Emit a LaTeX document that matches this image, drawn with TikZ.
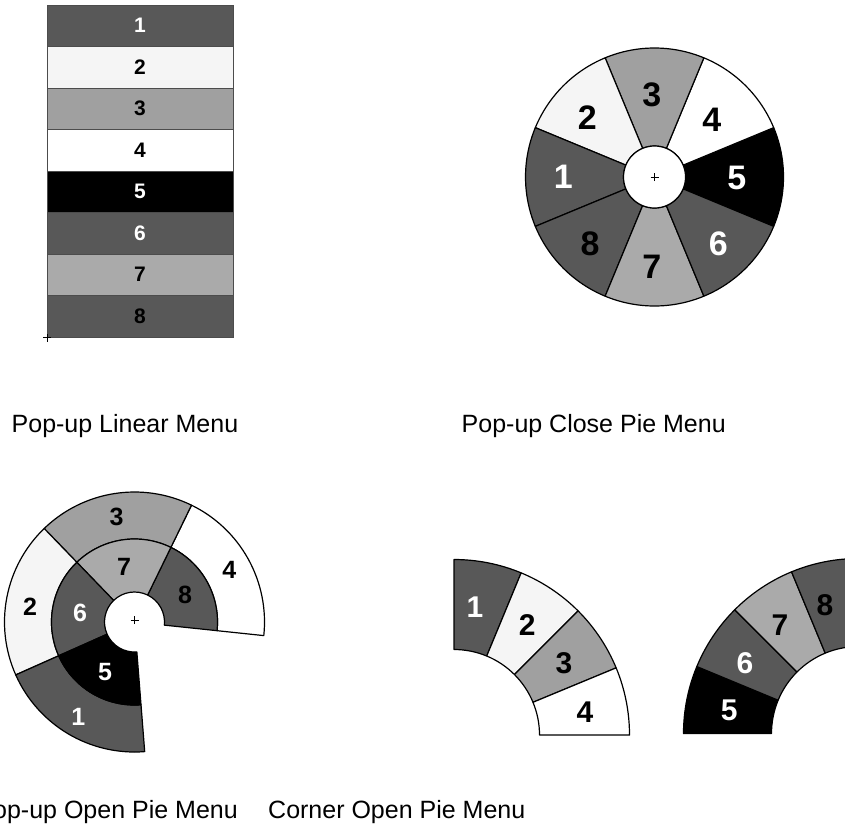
\documentclass[tikz,border=0pt]{standalone}
\usepackage{fontspec}
\setmainfont{Liberation Sans}
\definecolor{dg}{RGB}{88,88,88}
\definecolor{lg}{RGB}{245,245,245}
\definecolor{mg}{RGB}{160,160,160}
\definecolor{ng}{RGB}{170,170,170}
\tikzset{
  pieline/.style={draw=black, line width=1.2pt, line join=round},
  rowbox/.style={draw=black!70, line width=0.7pt, minimum width=186pt, minimum height=41.5pt, inner sep=0pt,
    font=\bfseries\fontsize{21}{21}\selectfont},
  caption/.style={font=\fontsize{25}{28}\selectfont, inner sep=0pt},
  dnum/.style={font=\bfseries\fontsize{#1}{#1}\selectfont, inner sep=0pt},
  cursor/.style={draw=black, line width=0.6pt},
}
\newcommand\annsec[6]{%
  \path[pieline, fill=#6, shift={(#1)}] (#4:#3) arc[start angle=#4, end angle=#5, radius=#3]
    -- (#5:#2) arc[start angle=#5, end angle=#4, radius=#2] -- cycle;}
\begin{document}
\begin{tikzpicture}[x=1pt,y=1pt]
\useasboundingbox (0,0) rectangle (845,-825);
% ---------- linear menu ----------
\node[rowbox, fill=dg, text=white] (r1) at (140,-25.75) {1};
\node[rowbox, fill=lg] (r2) at (140,-67.25) {2};
\node[rowbox, fill=mg] (r3) at (140,-108.75) {3};
\node[rowbox, fill=white] (r4) at (140,-150.25) {4};
\node[rowbox, fill=black, text=white] (r5) at (140,-191.75) {5};
\node[rowbox, fill=dg, text=white] (r6) at (140,-233.25) {6};
\node[rowbox, fill=ng] (r7) at (140,-274.75) {7};
\node[rowbox, fill=dg] (r8) at (140,-316.25) {8};
\coordinate (lc) at (47,-337.5);
\draw[cursor] (lc) +(-4,0) -- +(4,0) (lc) +(0,-4) -- +(0,4);
\node[caption, anchor=base west] (t1) at (11.5,-432) {Pop-up Linear Menu};
% ---------- close pie ----------
\coordinate (cc) at (654.5,-177);
\annsec{cc}{31}{129}{-22.5}{22.5}{black}
\annsec{cc}{31}{129}{22.5}{67.5}{white}
\annsec{cc}{31}{129}{67.5}{112.5}{mg}
\annsec{cc}{31}{129}{112.5}{157.5}{lg}
\annsec{cc}{31}{129}{157.5}{202.5}{dg}
\annsec{cc}{31}{129}{202.5}{247.5}{dg}
\annsec{cc}{31}{129}{247.5}{292.5}{ng}
\annsec{cc}{31}{129}{292.5}{337.5}{dg}
\draw[pieline, fill=white] (cc) circle[radius=31];
\draw[cursor] (cc) +(-4,0) -- +(4,0) (cc) +(0,-4) -- +(0,4);
\node[dnum=34, text=white] (c1) at (563.3,-176.7) {1};
\node[dnum=34] (c2) at (587.3,-117.3) {2};
\node[dnum=34] (c3) at (651.7,-95) {3};
\node[dnum=34] (c4) at (711.7,-120) {4};
\node[dnum=34, text=white] (c5) at (736.7,-178) {5};
\node[dnum=34, text=white] (c6) at (718.3,-243.3) {6};
\node[dnum=34] (c7) at (651.7,-266.7) {7};
\node[dnum=34] (c8) at (590,-243.3) {8};
\node[caption, anchor=base west] (t2) at (461.5,-432) {Pop-up Close Pie Menu};
% ---------- open pie ----------
\coordinate (co) at (134.5,-622);
\annsec{co}{83}{130}{-6}{64}{white}
\annsec{co}{83}{130}{64}{134}{mg}
\annsec{co}{83}{130}{134}{204}{lg}
\annsec{co}{83}{130}{204}{274.5}{dg}
\annsec{co}{30}{83}{-6}{64}{dg}
\annsec{co}{30}{83}{64}{134}{ng}
\annsec{co}{30}{83}{134}{204}{dg}
\annsec{co}{30}{83}{204}{274.5}{black}
\coordinate (cop) at (134.5,-620);
\draw[cursor] (cop) +(-4,0) -- +(4,0) (cop) +(0,-4) -- +(0,4);
\node[dnum=25, text=white] (o1) at (78.3,-716.7) {1};
\node[dnum=25] (o2) at (30,-606.7) {2};
\node[dnum=25] (o3) at (116.7,-516.7) {3};
\node[dnum=25] (o4) at (229.3,-570) {4};
\node[dnum=25, text=white] (o5) at (105,-671.7) {5};
\node[dnum=25, text=white] (o6) at (80,-613.3) {6};
\node[dnum=25] (o7) at (124,-566.7) {7};
\node[dnum=25] (o8) at (185,-595) {8};
\node[caption, anchor=base east] (t3) at (238,-818.5) {Pop-up Open Pie Menu};
% ---------- corner pies ----------
\coordinate (cl) at (454,-735);
\annsec{cl}{85.5}{175.5}{67.5}{90}{dg}
\annsec{cl}{85.5}{175.5}{45}{67.5}{lg}
\annsec{cl}{85.5}{175.5}{22.5}{45}{mg}
\annsec{cl}{85.5}{175.5}{0}{22.5}{white}
\node[dnum=30, text=white] (k1) at (475,-606.7) {1};
\node[dnum=30] (k2) at (527.3,-625) {2};
\node[dnum=30] (k3) at (564,-663.3) {3};
\node[dnum=30] (k4) at (585,-711.7) {4};
\coordinate (cr) at (858.5,-733.5);
\annsec{cr}{87}{175}{157.5}{180}{black}
\annsec{cr}{87}{175}{135}{157.5}{dg}
\annsec{cr}{87}{175}{112.5}{135}{ng}
\annsec{cr}{87}{175}{90}{112.5}{dg}
\node[dnum=30, text=white] (k5) at (729.3,-710) {5};
\node[dnum=30, text=white] (k6) at (745,-663.3) {6};
\node[dnum=30] (k7) at (780,-625) {7};
\node[dnum=30] (k8) at (825,-605) {8};
\node[caption, anchor=base west] (t4) at (268,-818.5) {Corner Open Pie Menu};
\end{tikzpicture}
\end{document}
